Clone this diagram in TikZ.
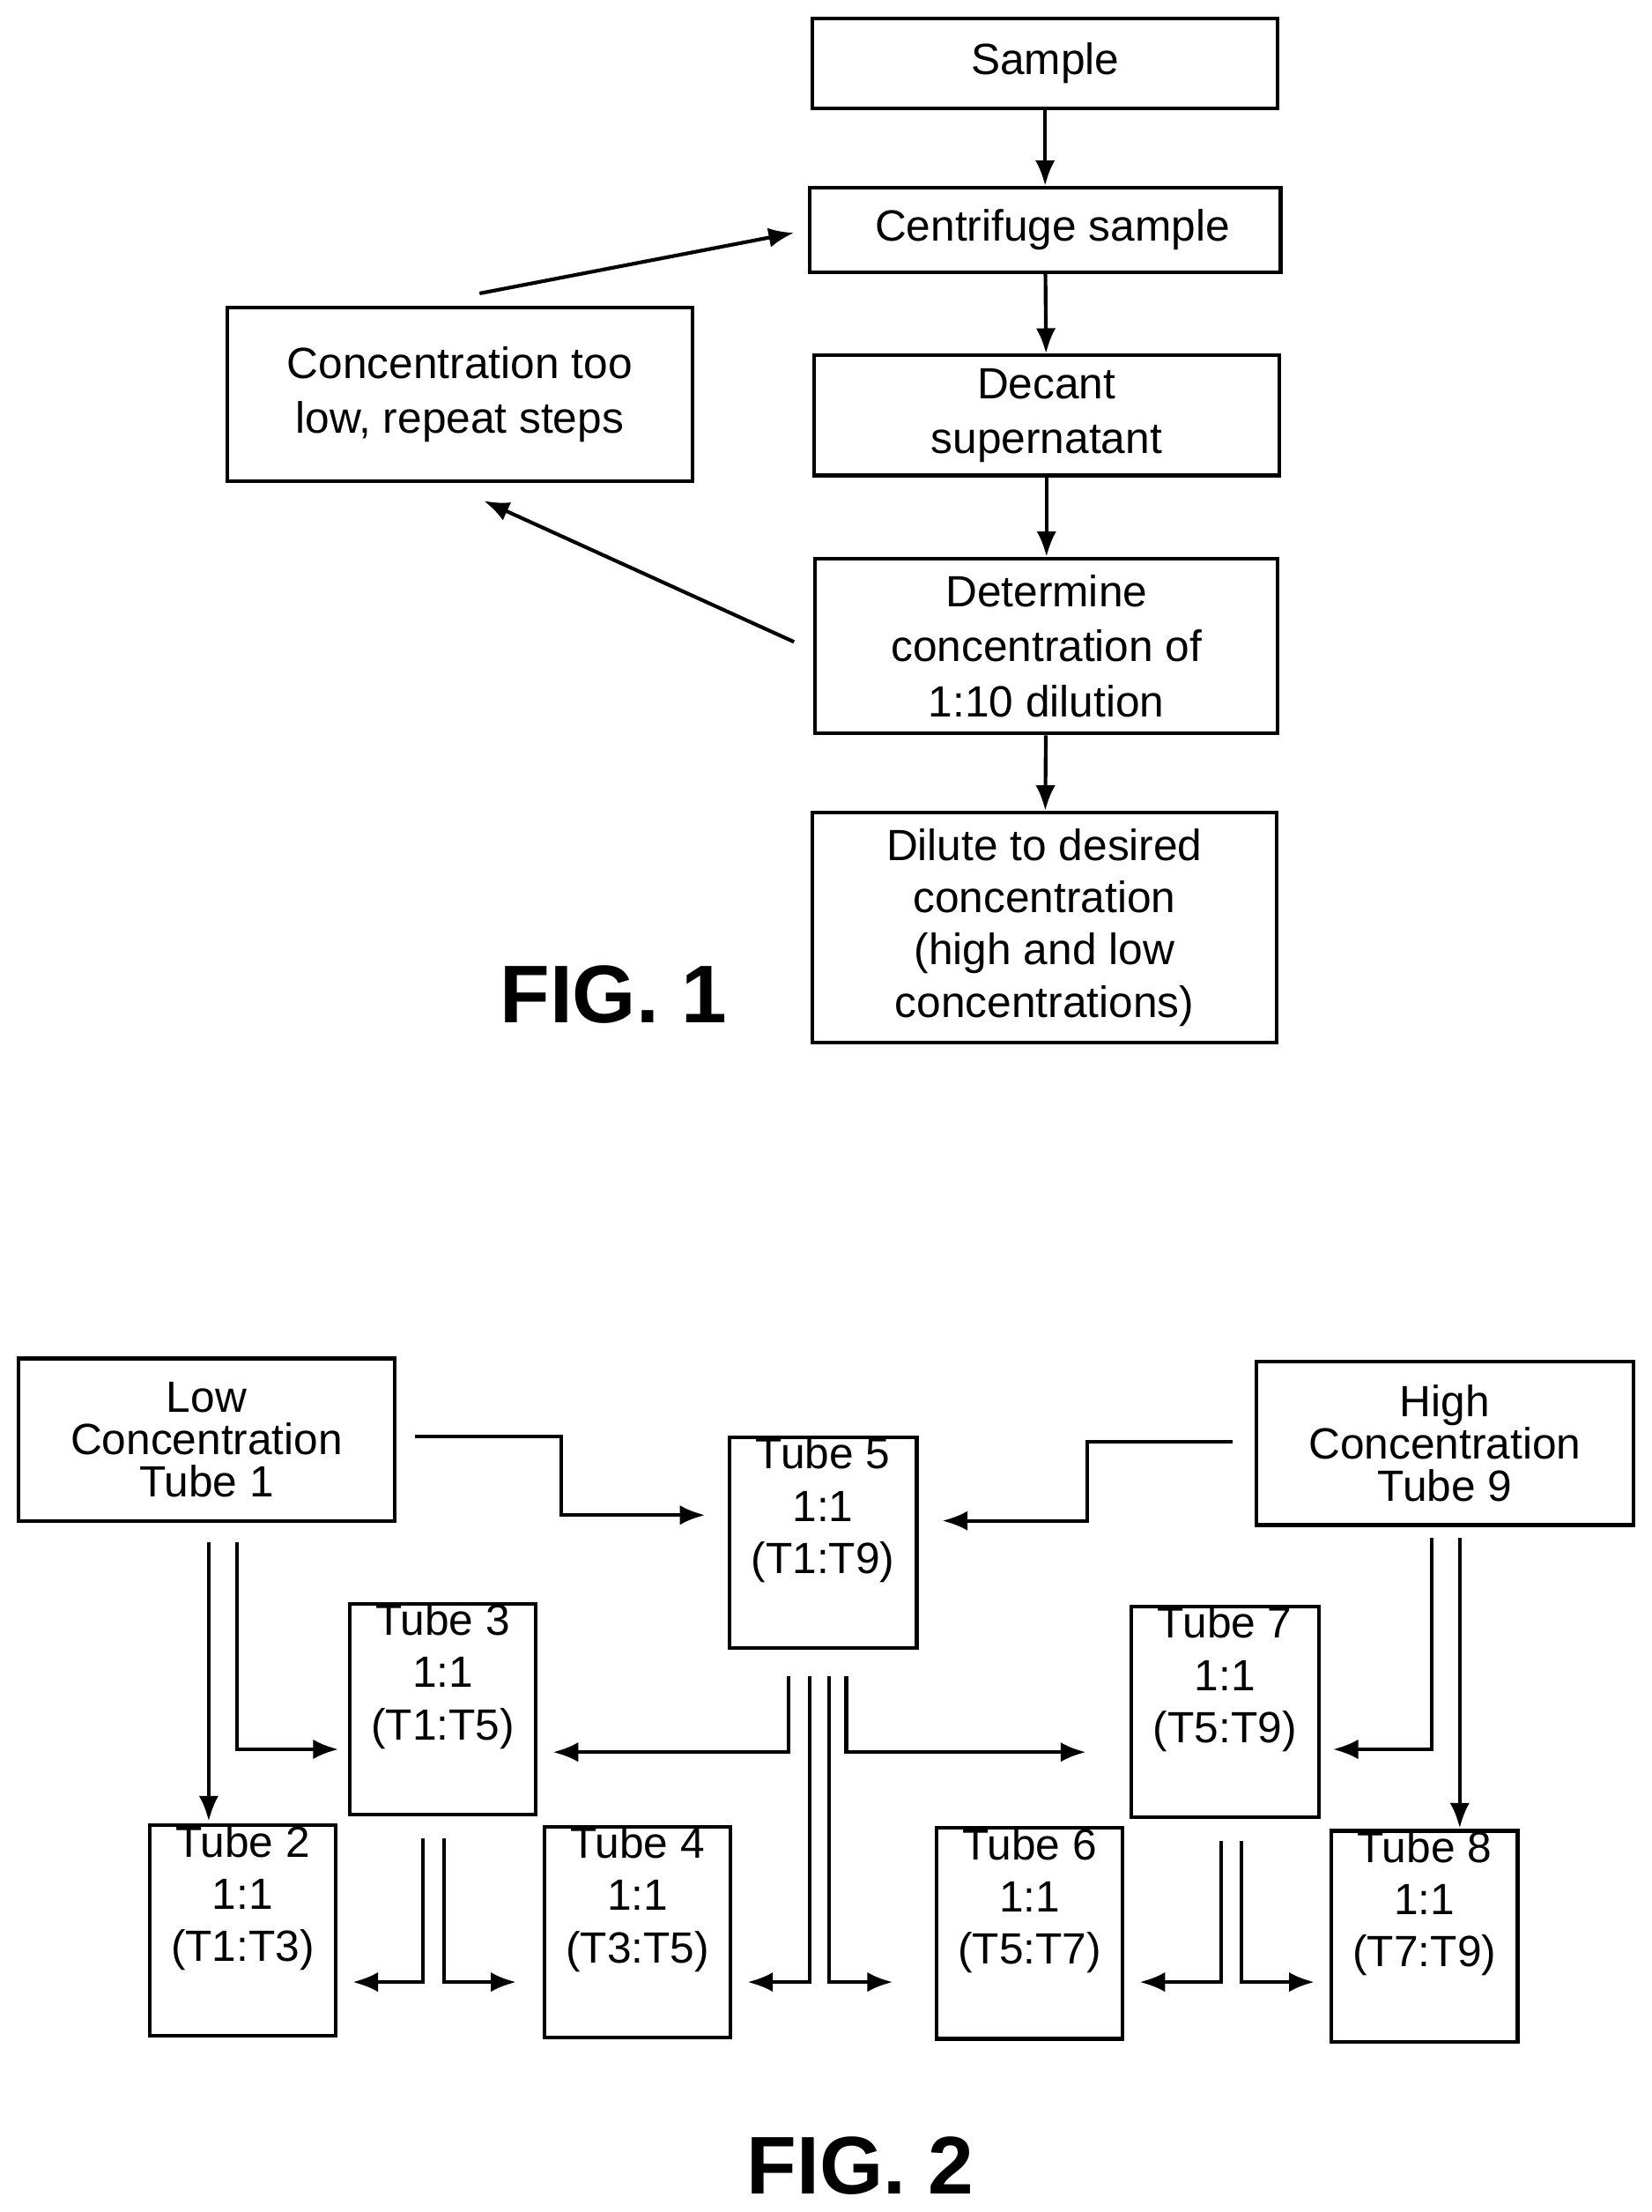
\documentclass[tikz,border=0pt]{standalone}
\usepackage{fontspec}
\setmainfont{Liberation Sans}
\usetikzlibrary{arrows.meta}
\begin{document}
\begin{tikzpicture}[x=0.5pt,y=-0.5pt,
  box/.style={draw,line width=1.3pt,inner sep=0pt,align=center,font=\fontsize{15.5}{19.5}\selectfont},
  tube/.style={draw,line width=1.3pt,inner sep=0pt,align=center,font=\fontsize{15.5}{18.5}\selectfont},
  arr/.style={line width=1.3pt,-{Latex[length=9pt,width=7pt]}},
  fig/.style={font=\fontsize{29}{29}\bfseries\selectfont}]
\useasboundingbox (0,0) rectangle (1171,1568);
% FIG 1
\node[box,minimum width=165pt,minimum height=32pt] (s) at (741,45) {Sample};
\node[box,minimum width=167pt,minimum height=30pt] (c) at (741,163) {\,\,Centrifuge sample};
\node[box,minimum width=165pt,minimum height=42.5pt] (d) at (742,294.5) {Decant\\supernatant};
\node[box,minimum width=164pt,minimum height=62pt] (m) at (742,458) {Determine\\concentration of\\1:10 dilution};
\node[box,minimum width=164.5pt,minimum height=81.5pt,font=\fontsize{15.5}{18.5}\selectfont] (l) at (740.5,657.5) {Dilute to desired\\concentration\\(high and low\\concentrations)};
\node[box,minimum width=165pt,minimum height=61.5pt] (t) at (326,279.5) {Concentration too\\low, repeat steps};
\node[fig] (f1) at (435,705) {FIG. 1};
\draw[arr] (s) -- (c);
\draw[arr] (c) -- (d);
\draw[arr] (d) -- (m);
\draw[arr] (m) -- (l);
\coordinate (a1) at (340,208); \coordinate (a2) at (563,165);
\draw[arr] (a1) -- (a2);
\coordinate (b1) at (563,455); \coordinate (b2) at (343,355);
\draw[arr] (b1) -- (b2);
% FIG 2
\node[tube,minimum width=133.5pt,minimum height=57.5pt,font=\fontsize{15.5}{15}\selectfont] (low) at (146.5,1020.5) {Low\\Concentration\\Tube 1};
\node[tube,minimum width=133.5pt,minimum height=58pt,font=\fontsize{15.5}{15}\selectfont] (high) at (1024.5,1023) {High\\Concentration\\Tube 9};
\node[tube,minimum width=66.5pt,minimum height=73.5pt] (t5) at (583.5,1093.5) {Tube 5\\1:1\\(T1:T9)\\[8pt]};
\node[tube,minimum width=66pt,minimum height=73.5pt] (t3) at (314,1211.5) {Tube 3\\1:1\\(T1:T5)\\[8pt]};
\node[tube,minimum width=66.5pt,minimum height=73.5pt] (t7) at (868.5,1213.5) {Tube 7\\1:1\\(T5:T9)\\[8pt]};
\node[tube,minimum width=66pt,minimum height=73.5pt] (t2) at (172,1368.5) {Tube 2\\1:1\\(T1:T3)\\[8pt]};
\node[tube,minimum width=66pt,minimum height=72.5pt] (t4) at (452,1369.5) {Tube 4\\1:1\\(T3:T5)\\[8pt]};
\node[tube,minimum width=66pt,minimum height=73.5pt] (t6) at (730,1370.5) {Tube 6\\1:1\\(T5:T7)\\[8pt]};
\node[tube,minimum width=66pt,minimum height=73.5pt] (t8) at (1010,1372.5) {Tube 8\\1:1\\(T7:T9)\\[8pt]};
\node[fig] (f2) at (610,1535) {FIG. 2};
\draw[arr] (294,1018) -- (398,1018) -- (398,1074) -- (500,1074);
\draw[arr] (874,1022) -- (771,1022) -- (771,1078) -- (668,1078);
\draw[arr] (148,1093) -- (148,1291);
\draw[arr] (168,1093) -- (168,1240) -- (240,1240);
\draw[arr] (559,1188) -- (559,1242) -- (392,1242);
\draw[arr] (600,1188) -- (600,1242) -- (770,1242);
\draw[arr] (574,1188) -- (574,1405) -- (530,1405);
\draw[arr] (588,1188) -- (588,1405) -- (633,1405);
\draw[arr] (300,1303) -- (300,1405) -- (250,1405);
\draw[arr] (315,1303) -- (315,1405) -- (366,1405);
\draw[arr] (866,1305) -- (866,1405) -- (808,1405);
\draw[arr] (880,1305) -- (880,1405) -- (932,1405);
\draw[arr] (1015,1090) -- (1015,1240) -- (945,1240);
\draw[arr] (1035,1090) -- (1035,1296);
\end{tikzpicture}
\end{document}
